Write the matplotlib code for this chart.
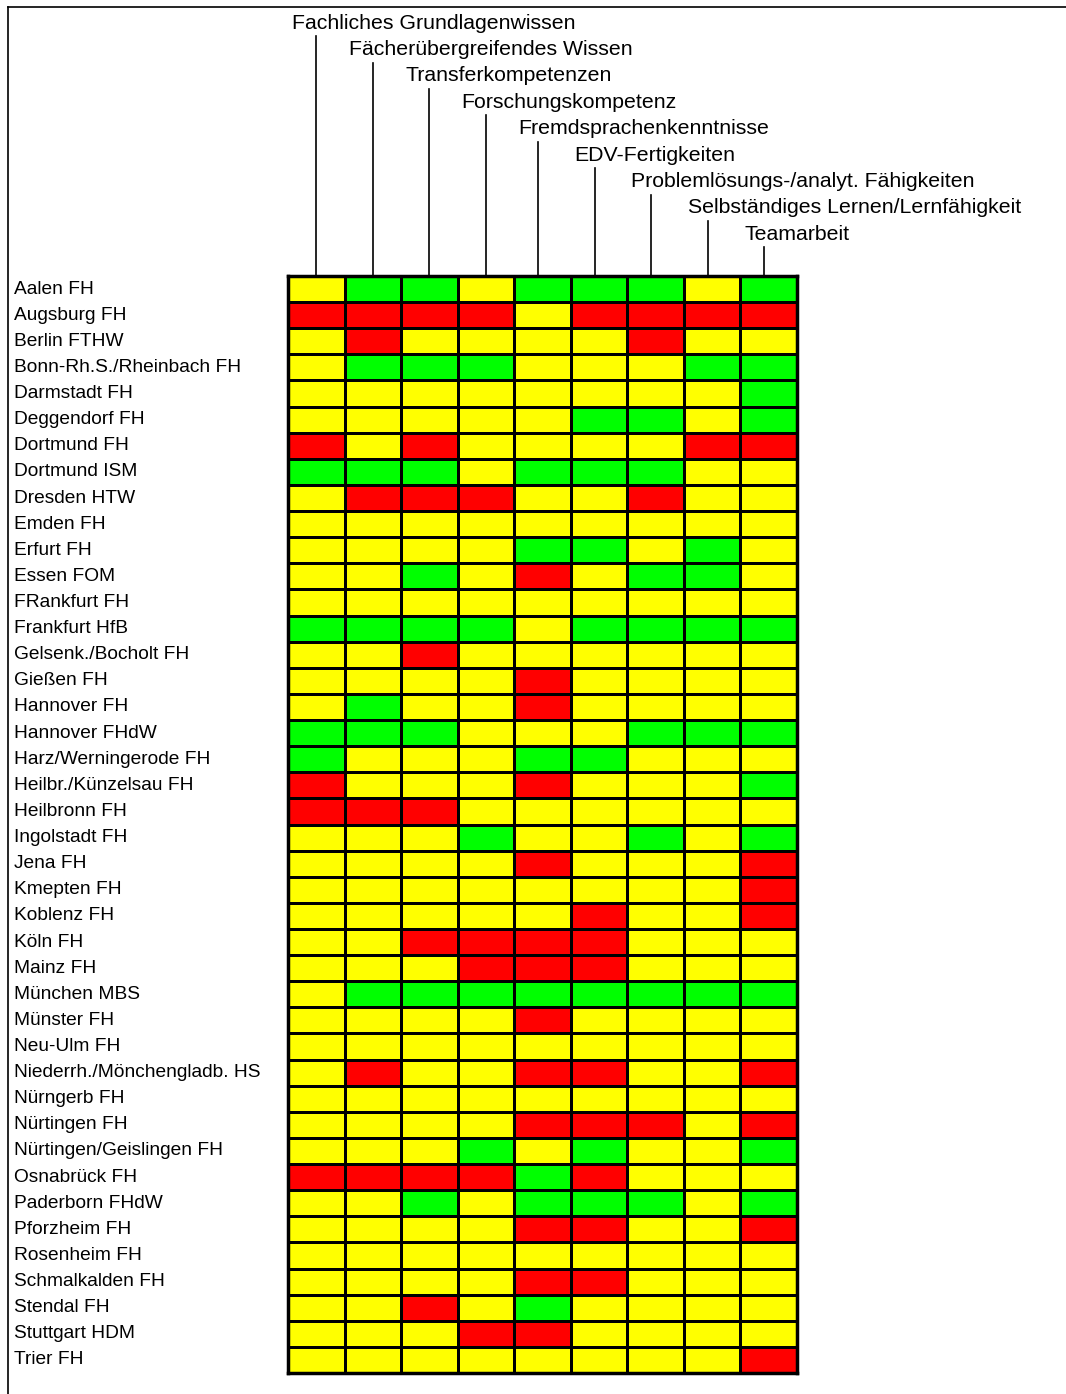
import matplotlib
matplotlib.use("Agg")
import matplotlib.pyplot as plt
from matplotlib.colors import ListedColormap
from matplotlib.lines import Line2D
import numpy as np

plt.rcParams['font.family'] = ['Liberation Sans', 'DejaVu Sans']

criteria = ["Fachliches Grundlagenwissen", "Fächerübergreifendes Wissen",
            "Transferkompetenzen", "Forschungskompetenz", "Fremdsprachenkenntnisse",
            "EDV-Fertigkeiten", "Problemlösungs-/analyt. Fähigkeiten",
            "Selbständiges Lernen/Lernfähigkeit", "Teamarbeit"]

schools = ["Aalen FH", "Augsburg FH", "Berlin FTHW", "Bonn-Rh.S./Rheinbach FH",
           "Darmstadt FH", "Deggendorf FH", "Dortmund FH", "Dortmund ISM",
           "Dresden HTW", "Emden FH", "Erfurt FH", "Essen FOM", "FRankfurt FH",
           "Frankfurt HfB", "Gelsenk./Bocholt FH", "Gießen FH", "Hannover FH",
           "Hannover FHdW", "Harz/Werningerode FH", "Heilbr./Künzelsau FH",
           "Heilbronn FH", "Ingolstadt FH", "Jena FH", "Kmepten FH", "Koblenz FH",
           "Köln FH", "Mainz FH", "München MBS", "Münster FH", "Neu-Ulm FH",
           "Niederrh./Mönchengladb. HS", "Nürngerb FH", "Nürtingen FH",
           "Nürtingen/Geislingen FH", "Osnabrück FH", "Paderborn FHdW",
           "Pforzheim FH", "Rosenheim FH", "Schmalkalden FH", "Stendal FH",
           "Stuttgart HDM", "Trier FH"]

# R = red, Y = yellow, G = green, one letter per criterion
ratings = ["YGGYGGGYG", "RRRRYRRRR", "YRYYYYRYY", "YGGGYYYGG", "YYYYYYYYG",
           "YYYYYGGYG", "RYRYYYYRR", "GGGYGGGYY", "YRRRYYRYY", "YYYYYYYYY",
           "YYYYGGYGY", "YYGYRYGGY", "YYYYYYYYY", "GGGGYGGGG", "YYRYYYYYY",
           "YYYYRYYYY", "YGYYRYYYY", "GGGYYYGGG", "GYYYGGYYY", "RYYYRYYYG",
           "RRRYYYYYY", "YYYGYYGYG", "YYYYRYYYR", "YYYYYYYYR", "YYYYYRYYR",
           "YYRRRRYYY", "YYYRRRYYY", "YGGGGGGGG", "YYYYRYYYY", "YYYYYYYYY",
           "YRYYRRYYR", "YYYYYYYYY", "YYYYRRRYR", "YYYGYGYYG", "RRRRGRYYY",
           "YYGYGGGYG", "YYYYRRYYR", "YYYYYYYYY", "YYYYRRYYY", "YYRYGYYYY",
           "YYYRRYYYY", "YYYYYYYYR"]

codes = {"R": 0, "Y": 1, "G": 2}
grid = np.array([[codes[c] for c in row] for row in ratings])

W, H = 1066, 1394
fig = plt.figure(figsize=(W / 100, H / 100), dpi=100)
ax = fig.add_axes([288 / W, 1 - 1373 / H, (797 - 288) / W, (1373 - 276) / H])
cmap = ListedColormap(["#FF0000", "#FFFF00", "#00FF00"])
ax.pcolormesh(grid, cmap=cmap, vmin=-0.5, vmax=2.5, edgecolors="black", linewidth=2)
ax.set_xlim(0, len(criteria))
ax.set_ylim(len(schools), 0)
ax.set_xticks([])
ax.set_yticks([])
for s in ax.spines.values():
    s.set_linewidth(2.5)

# row labels
trans = matplotlib.transforms.blended_transform_factory(fig.transFigure, ax.transData)
for i, name in enumerate(schools):
    ax.text(14 / W, i + 0.5, name, transform=trans, ha="left", va="center",
            fontsize=13.8, clip_on=False)

# column labels with leader lines
n = len(criteria)
for j, lab in enumerate(criteria):
    yl = -(1.6 + (n - 1 - j) * 1.01)
    xl = j + 0.5 - (0.08 if j >= 4 else 0.0)
    ax.text(j + 0.07, yl, lab, ha="left", va="center", fontsize=15.3, clip_on=False)
    ax.add_line(Line2D([xl, xl], [yl + 0.5, 0], color="black",
                       linewidth=1.2, clip_on=False))

# outer frame (left and top)
fig.add_artist(Line2D([8 / W, 8 / W], [0, 1 - 7 / H], color="black", linewidth=1.2,
                      transform=fig.transFigure))
fig.add_artist(Line2D([8 / W, 1], [1 - 7 / H, 1 - 7 / H], color="black", linewidth=1.2,
                      transform=fig.transFigure))

fig.savefig("out.png", dpi=100)
